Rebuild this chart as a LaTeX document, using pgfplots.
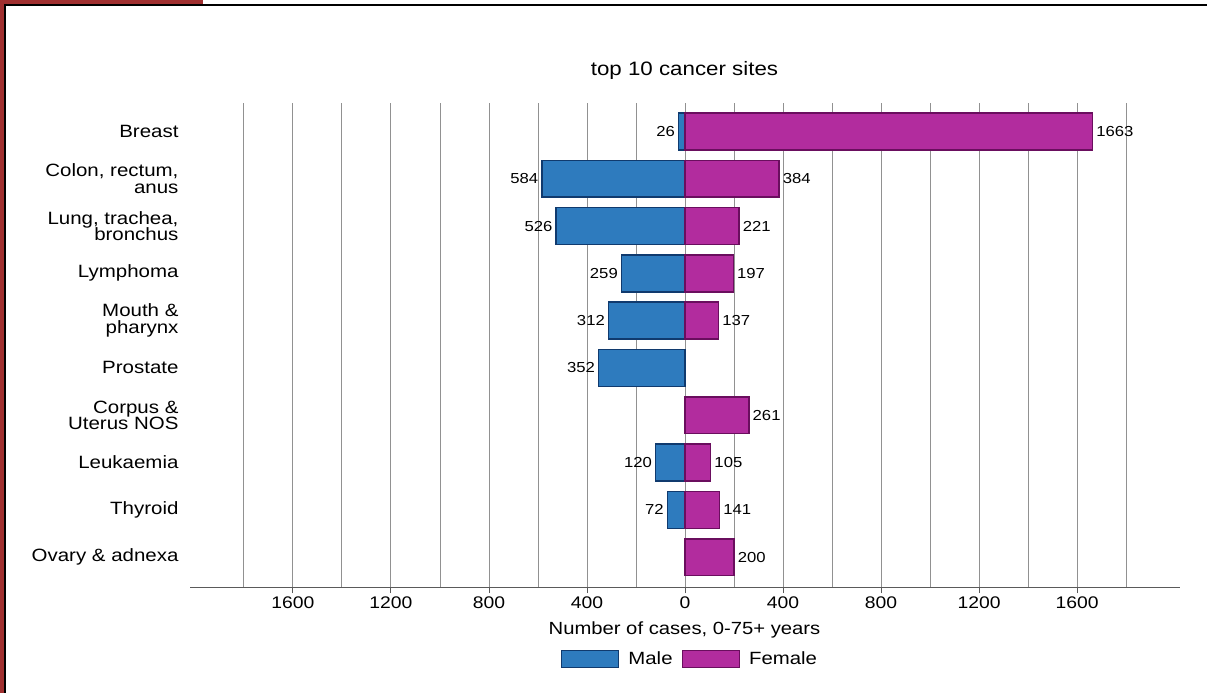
\documentclass[border=0pt]{standalone}
\usepackage{pgfplots}
\pgfplotsset{compat=1.18}
\usepackage{fontspec}
\setmainfont{Liberation Sans}[FakeStretch=1.15]
\definecolor{malefill}{RGB}{46,123,190}
\definecolor{maledraw}{RGB}{16,58,110}
\definecolor{femfill}{RGB}{178,44,158}
\definecolor{femdraw}{RGB}{106,14,94}
\definecolor{gridc}{RGB}{145,145,145}
\definecolor{axisc}{RGB}{90,90,90}
\definecolor{framered}{RGB}{160,48,48}
\begin{document}
\begin{tikzpicture}
\useasboundingbox (0pt,0pt) rectangle (1207pt,-693pt);
\fill[framered] (0pt,0pt) rectangle (4pt,-693pt);
\fill[framered] (0pt,0pt) rectangle (203pt,-4pt);
\draw[black, line width=2.5pt] (5pt,-693pt) -- (5pt,-5pt) -- (1207pt,-5pt);
\begin{axis}[
  at={(190pt,-587pt)}, anchor=south west,
  scale only axis, width=990pt, height=484pt,
  xmin=-2020, xmax=2020,
  ymin=-0.6, ymax=9.63, y dir=reverse,
  xbar, bar shift=0pt, bar width=0.78,
  axis x line*=bottom, axis y line*=left,
  y axis line style={draw=none},
  x axis line style={axisc, line width=1pt},
  ytick={0,...,9},
  yticklabels={Breast,{Colon, rectum,\\anus},{Lung, trachea,\\bronchus},Lymphoma,{Mouth \&\\pharynx},Prostate,{Corpus \&\\Uterus NOS},Leukaemia,Thyroid,{Ovary \& adnexa}},
  ytick style={draw=none},
  yticklabel style={align=right, font=\fontsize{17.8}{16.6}\selectfont, xshift=-2pt},
  xtick={-1600,-1200,-800,-400,0,400,800,1200,1600},
  minor xtick={-1800,-1400,-1000,-600,-200,200,600,1000,1400,1800},
  xmajorgrids, xminorgrids,
  major grid style={gridc, line width=0.9pt},
  minor grid style={gridc, line width=0.9pt},
  xtick align=outside, major tick length=6pt, minor tick length=0pt,
  xtick style={axisc, line width=0.9pt},
  xticklabel={\pgfmathparse{abs(\tick)}\pgfmathprintnumber[fixed,precision=0,1000 sep={},assume math mode=true]{\pgfmathresult}},
  xticklabel style={font=\fontsize{16.8}{18}\selectfont},
  xlabel={Number of cases, 0-75+ years},
  xlabel style={at={(axis description cs:0.4995,-0.0888)}, anchor=center, font=\fontsize{17.6}{19}\selectfont},
  title={top 10 cancer sites},
  title style={at={(axis description cs:0.4995,1.0558)}, anchor=center, font=\fontsize{19.4}{21}\selectfont},
  legend style={at={(axis description cs:0.505,-0.1488)}, anchor=center, draw=none, fill=none,
    legend columns=-1, font=\fontsize{17.7}{19}\selectfont,
    /tikz/every odd column/.append style={column sep=7pt},
    /tikz/every even column/.append style={column sep=7pt}},
  point meta=explicit symbolic,
  nodes near coords,
  nodes near coords align=horizontal,
  every node near coord/.append style={font=\fontsize{14.5}{16}\selectfont, inner sep=3pt, text=black},
]
\addplot[fill=malefill, draw=maledraw, line width=1.5pt,
  every node near coord/.append style={anchor=east},
  legend image code/.code={\draw[fill=malefill, draw=maledraw, line width=1.5pt] (0pt,-8pt) rectangle (57pt,9pt);}]
  coordinates {(-26,0)[26] (-584,1)[584] (-526,2)[526] (-259,3)[259] (-312,4)[312] (-352,5)[352] (-120,7)[120] (-72,8)[72]};
\addlegendentry{Male}
\addplot[fill=femfill, draw=femdraw, line width=1.5pt,
  every node near coord/.append style={anchor=west},
  legend image code/.code={\draw[fill=femfill, draw=femdraw, line width=1.5pt] (0pt,-8pt) rectangle (57pt,9pt);}]
  coordinates {(1663,0)[1663] (384,1)[384] (221,2)[221] (197,3)[197] (137,4)[137] (261,6)[261] (105,7)[105] (141,8)[141] (200,9)[200]};
\addlegendentry{Female}
\end{axis}
\end{tikzpicture}
\end{document}
